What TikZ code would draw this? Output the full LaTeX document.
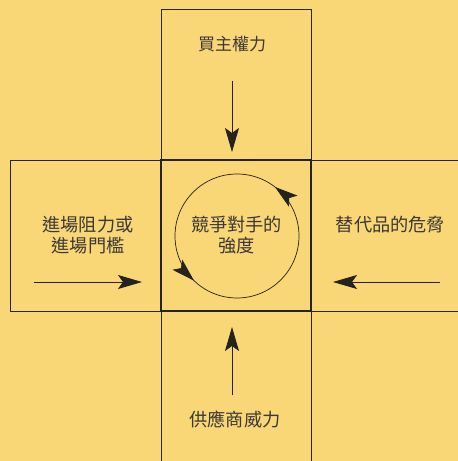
\documentclass[tikz,border=0pt]{standalone}
\usepackage{fontspec}
\newfontfamily\cjk{Noto Sans CJK TC}
\usetikzlibrary{arrows.meta,decorations.markings}
\definecolor{paper}{RGB}{249,214,118}
\definecolor{ink}{RGB}{38,34,30}
\begin{document}
\begin{tikzpicture}[x=1pt,y=1pt,
  forcebox/.style={draw=ink,line width=0.8pt,inner sep=0pt},
  corebox/.style={draw=ink,line width=1.8pt,inner sep=0pt,
    minimum width=150,minimum height=151},
  label/.style={font=\cjk\fontsize{18.2}{21}\selectfont,text=ink!90,align=center,inner sep=0pt},
  barb/.tip={Stealth[length=24pt,width=14pt,inset=5pt]},
  ringbarb/.tip={Stealth[length=23pt,width=14pt,inset=5pt]},
  push/.style={draw=ink,line width=0.9pt,-barb},
  cycle arrows/.style={draw=ink,line width=0.7pt,
    postaction={decorate},
    decoration={markings,
      mark=at position 0.145 with {\arrow{ringbarb}},
      mark=at position 0.628 with {\arrow{ringbarb}}}}]
\fill[paper] (0,0) rectangle (458,461);
\useasboundingbox (0,0) rectangle (458,461);
\clip (0,0) rectangle (458,461);

% the five force panels
\node[forcebox,minimum width=150,minimum height=151] (top) at (236,376.5) {};
\node[forcebox,minimum width=151,minimum height=151] (left) at (85.5,225.5) {};
\node[forcebox,minimum width=159,minimum height=151] (right) at (390.5,225.5) {};
\node[forcebox,minimum width=150,minimum height=164] (bottom) at (236,68) {};
\node[corebox] (core) at (236,225.5) {};

% rivalry cycle
\draw[cycle arrows] (237,225) circle[radius=62];

% panel captions
\node[label,font=\cjk\fontsize{17}{21}\selectfont] (buyer) at (232,416.5) {買主權力};
\node[label] (entry) at (88,226) {進場阻力或\\進場門檻};
\node[label] (rivalry) at (236.5,226) {競爭對手的\\強度};
\node[label] (subst) at (390.5,236.5) {替代品的危脅};
\node[label] (supplier) at (235,41.5) {供應商威力};

% pressure arrows pointing at the core
\coordinate (buyerS) at (232,380);  \coordinate (buyerE) at (232,309);
\coordinate (entryS) at (34,179);   \coordinate (entryE) at (142,179);
\coordinate (substS) at (440,179);  \coordinate (substE) at (333,179);
\coordinate (suppS) at (232,66);    \coordinate (suppE) at (232,134);
\draw[push] (buyerS) -- (buyerE);
\draw[push] (entryS) -- (entryE);
\draw[push] (substS) -- (substE);
\draw[push] (suppS) -- (suppE);
\end{tikzpicture}
\end{document}
